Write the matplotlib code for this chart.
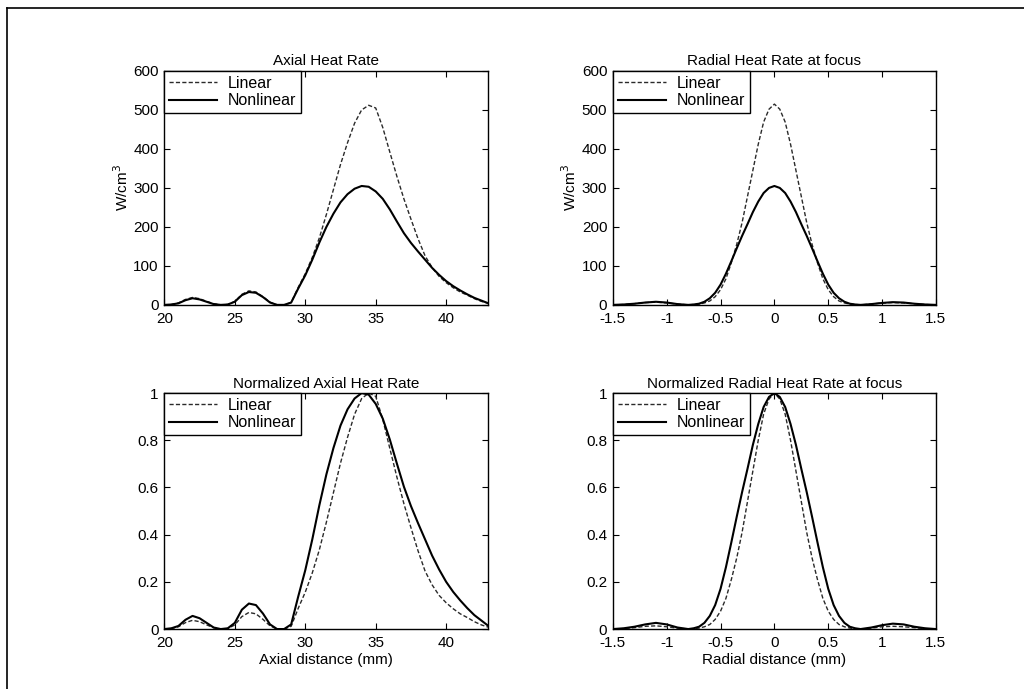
import numpy as np
import matplotlib
matplotlib.use("Agg")
import matplotlib.pyplot as plt
from matplotlib.lines import Line2D

plt.rcParams['font.family'] = ['Liberation Sans', 'DejaVu Sans']
plt.rcParams['font.size'] = 11

# axial heat rate along the beam axis (W/cm^3)
axial_x = [20, 20.5, 21, 21.5, 22, 22.5, 23, 23.5, 24, 24.5, 25, 25.5, 26, 26.5,
           27, 27.5, 28, 28.5, 29, 29.5, 30, 30.5, 31, 31.5, 32, 32.5, 33, 33.5,
           34, 34.5, 35, 35.5, 36, 36.5, 37, 37.5, 38, 38.5, 39, 39.5, 40, 40.5,
           41, 41.5, 42, 42.5, 43]
axial_linear = [0, 1, 5, 14, 19, 16, 9, 3, 0, 1, 9, 27, 36, 33, 21, 7, 0, 0,
                6, 45, 80, 122, 172, 232, 296, 360, 416, 466, 500, 512, 505, 455,
                392, 330, 272, 220, 170, 126, 96, 73, 57, 44, 33, 25, 16, 9, 4]
axial_nonlinear = [0, 1, 4, 12, 17, 14, 8, 2, 0, 1, 8, 25, 33, 31, 20, 6, 0, 0,
                   6, 42, 76, 116, 160, 200, 234, 263, 284, 298, 305, 303, 291, 272,
                   245, 214, 184, 159, 137, 116, 95, 77, 61, 48, 37, 27, 18, 11, 4]

# radial heat rate through the focus (W/cm^3)
radial_x = [-1.5, -1.4, -1.3, -1.2, -1.1, -1.0, -0.9, -0.8, -0.75, -0.7, -0.65,
            -0.6, -0.55, -0.5, -0.45, -0.4, -0.35, -0.3, -0.25, -0.2, -0.15, -0.1,
            -0.05, 0, 0.05, 0.1, 0.15, 0.2, 0.25, 0.3, 0.35, 0.4, 0.45, 0.5, 0.55,
            0.6, 0.65, 0.7, 0.75, 0.8, 0.9, 1.0, 1.1, 1.2, 1.3, 1.4, 1.5]
radial_linear = [0, 1, 3, 6, 7, 5, 2, 0, 1, 2, 5, 10, 21, 39, 67, 108, 155, 211,
                 278, 345, 412, 469, 502, 515, 502, 469, 412, 345, 278, 211, 155, 108,
                 67, 39, 21, 10, 5, 2, 1, 0, 2, 5, 6, 5, 3, 1, 0]
radial_nonlinear = [0, 1, 3, 6, 8, 6, 2, 0, 1, 3, 8, 17, 31, 52, 80, 112, 145, 177,
                    207, 238, 265, 287, 300, 305, 300, 287, 265, 238, 207, 177, 145, 112,
                    80, 52, 31, 17, 8, 3, 1, 0, 2, 5, 7, 6, 3, 1, 0]

series_names = ['Linear', 'Nonlinear']
lin_style = dict(color='#2a2a2a', lw=1.0, ls=(0, (3, 1.6)))
nl_style = dict(color='black', lw=1.5, ls='-')

fig = plt.figure(figsize=(10.24, 6.89), dpi=100)
fig.patch.set_facecolor('white')

# outer frame (top and left edges only)
fig.add_artist(Line2D([0.007, 0.007], [0.0, 0.988], color='black', lw=1.2))
fig.add_artist(Line2D([0.007, 1.0], [0.988, 0.988], color='black', lw=1.2))

boxes = [
    [0.1605, 0.5575, 0.3165, 0.3395],
    [0.5985, 0.5575, 0.3155, 0.3395],
    [0.1605, 0.0870, 0.3165, 0.3425],
    [0.5985, 0.0870, 0.3155, 0.3425],
]
axs = [fig.add_axes(b) for b in boxes]


def style_axis(ax):
    ax.tick_params(direction='in', top=True, right=True, length=4, width=0.8,
                   labelsize=11)
    ax.tick_params(axis='x', pad=5)
    ax.tick_params(axis='y', pad=4)
    for sp in ax.spines.values():
        sp.set_linewidth(1.0)


def add_legend(ax):
    leg = ax.legend(series_names, loc='upper left', borderaxespad=0,
                    fancybox=False, framealpha=1, edgecolor='black',
                    fontsize=11.5, handlelength=3.0, handletextpad=0.7,
                    borderpad=0.3, labelspacing=0.15)
    leg.get_frame().set_linewidth(1.0)


axial_lin_max = max(axial_linear)
axial_nl_max = max(axial_nonlinear)
radial_lin_max = max(radial_linear)
radial_nl_max = max(radial_nonlinear)

# top left: absolute axial
ax = axs[0]
ax.plot(axial_x, axial_linear, **lin_style)
ax.plot(axial_x, axial_nonlinear, **nl_style)
ax.set_xlim(20, 43)
ax.set_ylim(0, 600)
ax.set_xticks([20, 25, 30, 35, 40])
ax.set_yticks(range(0, 601, 100))
ax.set_title('Axial Heat Rate', fontsize=11, pad=4)
ax.set_ylabel('W/cm$^3$', fontsize=11, labelpad=2)
add_legend(ax)

# top right: absolute radial
ax = axs[1]
ax.plot(radial_x, radial_linear, **lin_style)
ax.plot(radial_x, radial_nonlinear, **nl_style)
ax.set_xlim(-1.5, 1.5)
ax.set_ylim(0, 600)
ax.set_xticks([-1.5, -1, -0.5, 0, 0.5, 1, 1.5])
ax.set_xticklabels(['-1.5', '-1', '-0.5', '0', '0.5', '1', '1.5'])
ax.set_yticks(range(0, 601, 100))
ax.set_title('Radial Heat Rate at focus', fontsize=11, pad=4)
ax.set_ylabel('W/cm$^3$', fontsize=11, labelpad=2)
add_legend(ax)

# bottom left: normalized axial
ax = axs[2]
ax.plot(axial_x, np.array(axial_linear) / axial_lin_max, **lin_style)
ax.plot(axial_x, np.array(axial_nonlinear) / axial_nl_max, **nl_style)
ax.set_xlim(20, 43)
ax.set_ylim(0, 1)
ax.set_xticks([20, 25, 30, 35, 40])
ax.set_yticks([0, 0.2, 0.4, 0.6, 0.8, 1])
ax.set_yticklabels(['0', '0.2', '0.4', '0.6', '0.8', '1'])
ax.set_title('Normalized Axial Heat Rate', fontsize=11, pad=4)
ax.set_xlabel('Axial distance (mm)', fontsize=11, labelpad=2)
add_legend(ax)

# bottom right: normalized radial
ax = axs[3]
ax.plot(radial_x, np.array(radial_linear) / radial_lin_max, **lin_style)
ax.plot(radial_x, np.array(radial_nonlinear) / radial_nl_max, **nl_style)
ax.set_xlim(-1.5, 1.5)
ax.set_ylim(0, 1)
ax.set_xticks([-1.5, -1, -0.5, 0, 0.5, 1, 1.5])
ax.set_xticklabels(['-1.5', '-1', '-0.5', '0', '0.5', '1', '1.5'])
ax.set_yticks([0, 0.2, 0.4, 0.6, 0.8, 1])
ax.set_yticklabels(['0', '0.2', '0.4', '0.6', '0.8', '1'])
ax.set_title('Normalized Radial Heat Rate at focus', fontsize=11, pad=4)
ax.set_xlabel('Radial distance (mm)', fontsize=11, labelpad=2)
add_legend(ax)

for ax in axs:
    style_axis(ax)

fig.savefig('out.png', dpi=100)
